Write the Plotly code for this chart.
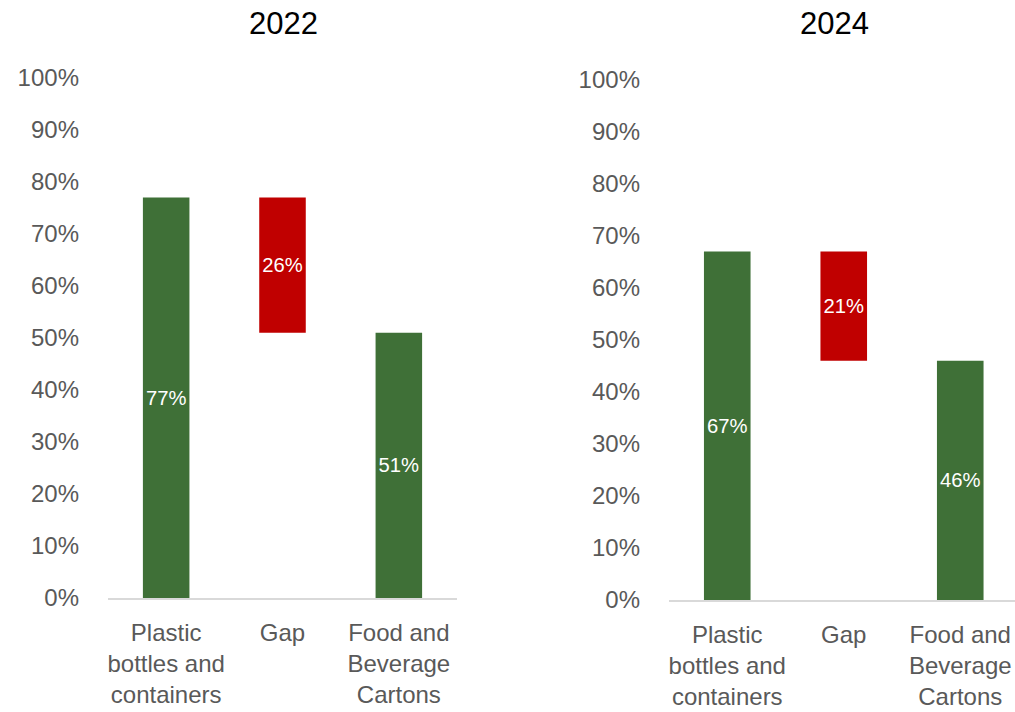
import plotly.graph_objects as go

# Recycling rates by packaging type, with the gap between them
categories = ["Plastic<br>bottles and<br>containers", "Gap", "Food and<br>Beverage<br>Cartons"]
years = ["2022", "2024"]
plastic_rate = [77, 67]
cartons_rate = [51, 46]
gap_rate = [26, 21]
y_ticks = list(range(0, 101, 10))
y_tick_labels = [f"{t}%" for t in y_ticks]

GREEN = "#3F7037"
RED = "#C00000"
GREY = "#595959"
FONT = "Liberation Sans, Arial, sans-serif"

fig = go.Figure()

for i, year in enumerate(years):
    values = [plastic_rate[i], gap_rate[i], cartons_rate[i]]
    bases = [0, cartons_rate[i], 0]
    suffix = "" if i == 0 else str(i + 1)
    fig.add_trace(go.Bar(
        x=categories,
        y=values,
        base=bases,
        marker=dict(color=[GREEN, RED, GREEN], line=dict(width=0)),
        width=0.4,
        text=[f"{v}%" for v in values],
        textposition="inside",
        insidetextanchor="middle",
        textangle=0,
        textfont=dict(color="white", size=22, family=FONT),
        xaxis="x" + suffix,
        yaxis="y" + suffix,
        showlegend=False,
        hoverinfo="skip",
    ))

yaxis_common = dict(
    range=[0, 100],
    tickmode="array",
    tickvals=y_ticks,
    ticktext=y_tick_labels,
    showgrid=False,
    zeroline=False,
    showline=False,
    automargin=False,
    tickfont=dict(size=24, color=GREY, family=FONT),
    ticklabelstandoff=28,
)
xaxis_common = dict(
    showgrid=False,
    zeroline=False,
    showline=True,
    linecolor="#D9D9D9",
    linewidth=2,
    ticks="",
    automargin=False,
    tickfont=dict(size=24, color=GREY, family=FONT),
    ticklabelstandoff=12,
)

fig.update_layout(
    width=1015,
    height=712,
    margin=dict(l=0, r=0, t=0, b=0),
    plot_bgcolor="white",
    paper_bgcolor="white",
    xaxis=dict(domain=[108 / 1015, 457 / 1015], range=[-0.5, 2.5], anchor="y", **xaxis_common),
    yaxis=dict(domain=[1 - 598 / 712, 1 - 78 / 712], anchor="x", **yaxis_common),
    xaxis2=dict(domain=[669 / 1015, 1.0], range=[-0.5, 2.47], anchor="y2", **xaxis_common),
    yaxis2=dict(domain=[1 - 600 / 712, 1 - 80 / 712], anchor="x2", **yaxis_common),
    annotations=[
        dict(text=years[0], x=283 / 1015, y=1 - 23 / 712, xref="paper", yref="paper",
             xanchor="center", yanchor="middle", showarrow=False,
             font=dict(size=31, color="black", family=FONT)),
        dict(text=years[1], x=834 / 1015, y=1 - 23 / 712, xref="paper", yref="paper",
             xanchor="center", yanchor="middle", showarrow=False,
             font=dict(size=31, color="black", family=FONT)),
    ],
)

fig.write_html("out.html")
